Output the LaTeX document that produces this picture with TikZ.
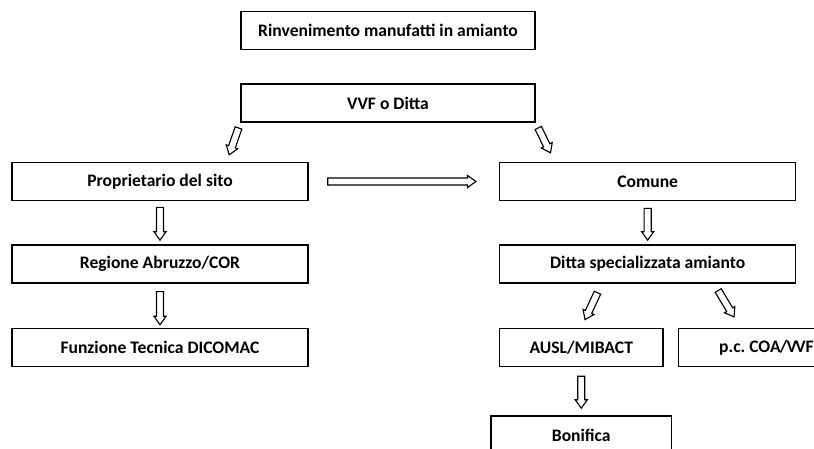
\documentclass[tikz,border=0pt]{standalone}
\usepackage{fontspec}
\setmainfont{Carlito}
\usetikzlibrary{
    arrows.meta,
    positioning,
    calc
}

\begin{document}
\begin{tikzpicture}[
        x=0.025cm, y=-0.025cm,
        node distance=1.07cm and 4.75cm,
        every node/.style={font=\bfseries\fontsize{12.5}{15}\selectfont},
        block/.style={
            rectangle,
            draw=black,
            line width=1.1pt,
            fill=white,
            minimum height=0.95cm,
            minimum width=7.4cm,
            align=center,
            inner sep=2pt
        },
        small/.style={block,minimum width=4.08cm},
        % hollow block arrow, #1 and #2 = gaps at start and end
        flow/.style 2 args={
            draw=black,
            line width=0.8pt,
            line join=miter,
            to path={
                let \p1=($(\tikztotarget)-(\tikztostart)$),
                    \n1={atan2(\y1,\x1)},
                    \n2={veclen(\x1,\y1)-#1-#2-6pt}
                in ($(\tikztostart)+(\n1:#1)+(\n1+90:2.5pt)$)
                    -- ++(\n1:\n2) -- ++(\n1+90:1.8pt)
                    -- ++($(\n1:6pt)+(\n1-90:4.3pt)$)
                    -- ++($(\n1:-6pt)+(\n1-90:4.3pt)$)
                    -- ++(\n1+90:1.8pt) -- ++(\n1+180:\n2) -- cycle
            }
        }
    ]
        \useasboundingbox (0,0) rectangle (814,448);
        \clip (0,0) rectangle (814,448);

        \node[block, minimum width=7.35cm] (find) at (388,30.5) {Rinvenimento manufatti in amianto};
        \node[block, minimum width=7.35cm, below=0.83cm of find] (vvf) {VVF o Ditta};
        \node[block] (owner) at (160,181.5) {Proprietario del sito};
        \node[block, right=of owner] (comune) {Comune};
        \node[block, below=of owner] (regione) {Regione Abruzzo/COR};
        \node[block, below=1.1cm of regione] (dicomac) {Funzione Tecnica DICOMAC};
        \node[block, below=of comune] (ditta) {Ditta specializzata amianto};
        \node[small, below right=1.1cm and 0cm of ditta.south west] (ausl) {AUSL/MIBACT};
        \node[small, minimum width=4.4cm, right=0.35cm of ausl] (coa) {p.c.\ COA\kern-0.6pt/\kern-0.6pt V\kern-1.2pt VF};
        \node[small, minimum width=4.5cm, below=1.2cm of ausl] (bonifica) {Bonifica};

        \draw[flow={3.7pt}{5.2pt}] (vvf.south west) to ([xshift=-2.05cm]owner.north east);
        \draw[flow={3.9pt}{7pt}] (vvf.south east) to ([xshift=1.4cm]comune.north west);
        \draw[flow={13.5pt}{16.3pt}] (owner.east) to (comune.west);
        \draw[flow={4.3pt}{2.8pt}] (owner.south) to (regione.north);
        \draw[flow={5.7pt}{2.1pt}] (regione.south) to (dicomac.north);
        \draw[flow={5pt}{2.8pt}] (comune.south) to (ditta.north);
        \draw[flow={7.1pt}{6.3pt}] ([xshift=-1.15cm]ditta.south) to (ausl.north);
        \draw[flow={5.7pt}{8.9pt}] ([xshift=1.66cm]ditta.south) to ([xshift=-0.65cm]coa.north);
        \draw[flow={6.4pt}{5pt}] (ausl.south) to (ausl.south |- bonifica.north);
    \end{tikzpicture}
\end{document}
